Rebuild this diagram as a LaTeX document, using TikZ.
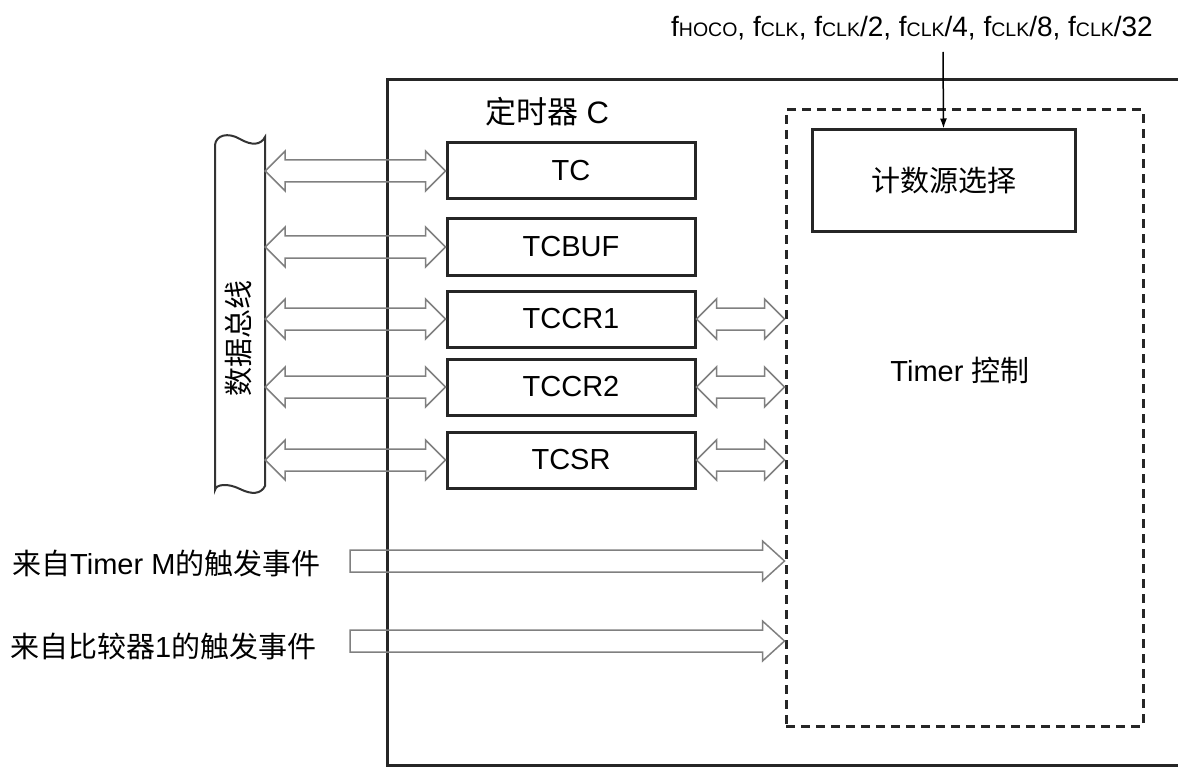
\documentclass[tikz,border=0pt]{standalone}
\usepackage{fontspec}
\setmainfont{Liberation Sans}
\newfontfamily\cjk{Noto Sans CJK SC}
\usetikzlibrary{arrows.meta,calc}

% clock names with small capital subscripts
\newcommand{\fsub}[1]{f{\fontsize{19.5}{19.5}\selectfont #1}}
% hollow double arrow from #1 to #2
\newcommand{\biarrow}[2]{%
  \draw[hollow] let \p1=(#1), \p2=(#2) in
    (\x1,\y1) -- ({\x1+20pt},{\y1+20pt}) -- ({\x1+20pt},{\y1+11pt}) -- ({\x2-20pt},{\y2+11pt})
    -- ({\x2-20pt},{\y2+20pt}) -- (\x2,\y2) -- ({\x2-20pt},{\y2-20pt}) -- ({\x2-20pt},{\y2-11pt})
    -- ({\x1+20pt},{\y1-11pt}) -- ({\x1+20pt},{\y1-20pt}) -- cycle;}
% hollow single arrow from #1 to #2
\newcommand{\evarrow}[2]{%
  \draw[hollow] let \p1=(#1), \p2=(#2) in
    (\x1,{\y1+11pt}) -- ({\x2-22pt},{\y2+11pt}) -- ({\x2-22pt},{\y2+20pt}) -- (\x2,\y2)
    -- ({\x2-22pt},{\y2-20pt}) -- ({\x2-22pt},{\y2-11pt}) -- (\x1,{\y1-11pt}) -- cycle;}

\begin{document}
\begin{tikzpicture}[x=1pt, y=-1pt,
            box/.style={rectangle, draw=black!85, line width=3pt, inner sep=0pt},
            reg/.style={box, minimum width=248pt, minimum height=56pt, font=\fontsize{29}{29}\selectfont},
            txt/.style={font=\fontsize{29}{29}\selectfont, inner sep=0pt},
            hollow/.style={draw=black!50, line width=1.5pt, line join=miter},
        ]
            \useasboundingbox (0,0) rectangle (1178,770);
            \clip (0,0) rectangle (1178,770);

            % Timer C block
            \node[box, minimum width=803pt, minimum height=685pt] (timerc) at (788.5,422.5) {};
            \node[txt, font=\fontsize{31}{31}\selectfont] (tctitle) at (547,112) {{\cjk 定时器} C};

            % Timer control
            \node[box, dash pattern=on 9pt off 6pt, minimum width=357pt, minimum height=616pt] (ctrl) at (964.5,418) {};
            \node[txt] (ctrltxt) at (960,370) {Timer {\cjk 控制}};
            \node[box, minimum width=263pt, minimum height=102pt, font=\fontsize{29}{29}\selectfont\cjk] (cnt) at (943.5,181) {计数源选择};

            % Count source input
            \node[txt, font=\fontsize{28}{28}\selectfont] (clksrc) at (912,28) {\fsub{HOCO}, \fsub{CLK}, \fsub{CLK}/2, \fsub{CLK}/4, \fsub{CLK}/8, \fsub{CLK}/32};
            \coordinate (clktap) at (943,52);
            \draw[-{Latex[length=10pt,width=7pt]}, line width=1.5pt] (clktap) -- (cnt.north);

            % Data bus
            \node[minimum width=50pt, minimum height=350pt, inner sep=0pt] (bus) at (240,315) {};
            \draw[draw=black!80, line width=2pt] (215,488) -- (215,145) .. controls (216,135) and (228,132) .. (240,139)
                .. controls (252,146) and (261,145) .. (265,137) -- (265,486) .. controls (261,494) and (252,495) .. (240,489)
                .. controls (228,483) and (216,484) .. (215,490) -- cycle;
            \node[txt, font=\fontsize{29}{29}\selectfont\cjk, rotate=90] (bustxt) at (238,338) {数据总线};

            % Registers
            \node[reg] (tc) at (571,171) {TC};
            \node[reg] (tcbuf) at (571,247) {TCBUF};
            \node[reg] (tccr1) at (571,319) {TCCR1};
            \node[reg] (tccr2) at (571,387) {TCCR2};
            \node[reg] (tcsr) at (571,460) {TCSR};

            % Register access
            \foreach \reg in {tc,tcbuf,tccr1,tccr2,tcsr}
                \biarrow{bus.east |- \reg.west}{\reg.west};
            \foreach \reg in {tccr1,tccr2,tcsr}
                \biarrow{\reg.east}{ctrl.west |- \reg.east};

            % Trigger events
            \node[txt, anchor=west] (evm) at (12,563) {{\cjk 来自}Timer M{\cjk 的触发事件}};
            \node[txt, anchor=west] (evcmp) at (10,646) {{\cjk 来自比较器}1{\cjk 的触发事件}};
            \coordinate (evmtail) at (350,561);
            \coordinate (evcmptail) at (350,641);
            \evarrow{evmtail}{ctrl.west |- evmtail};
            \evarrow{evcmptail}{ctrl.west |- evcmptail};
        \end{tikzpicture}
\end{document}
